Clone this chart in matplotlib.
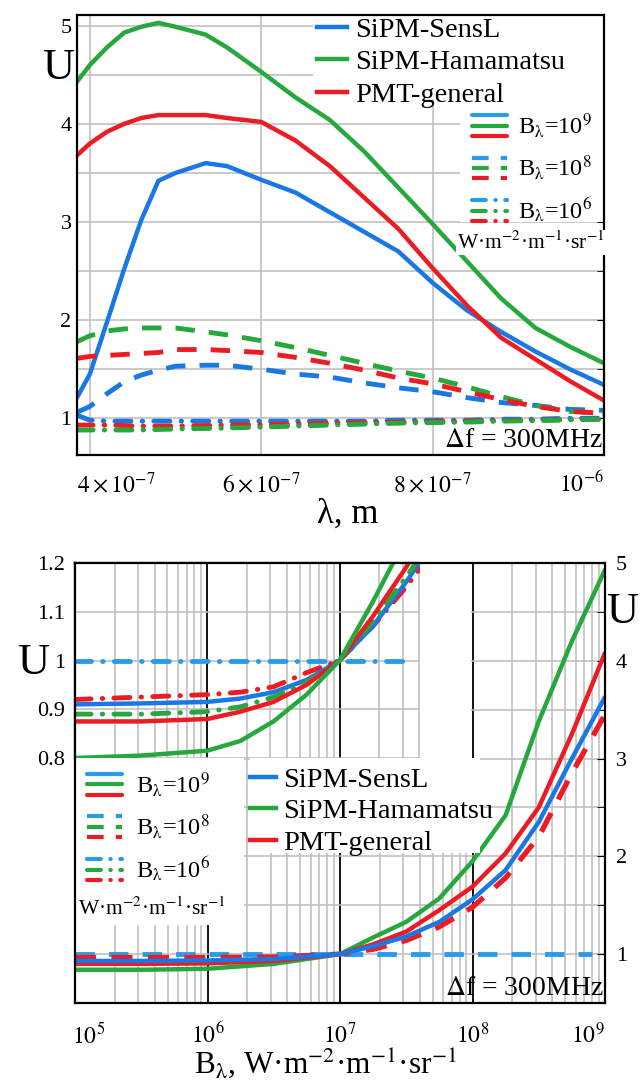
import matplotlib
matplotlib.use("Agg")
import numpy as np
import matplotlib.pyplot as plt
from matplotlib.lines import Line2D
from matplotlib.patches import Rectangle
from matplotlib.legend_handler import HandlerBase
from matplotlib.ticker import NullFormatter, MultipleLocator
from matplotlib.transforms import ScaledTranslation

plt.rcParams['font.family'] = ['Liberation Serif', 'DejaVu Serif']
plt.rcParams['mathtext.fontset'] = 'stix'

# ---------------- DATA: top chart (U vs wavelength) ----------------
lam_e7 = [3.85, 4.0, 4.2, 4.4, 4.6, 4.8, 5.0, 5.35, 5.6, 6.0,
          6.4, 6.8, 7.2, 7.6, 8.0, 8.4, 8.8, 9.2, 9.6, 10.0]   # x 1e-7 m
# B = 1e9 (solid)
sensl_b9 = [1.21, 1.45, 1.98, 2.52, 3.02, 3.42, 3.5, 3.6, 3.57, 3.43,
            3.3, 3.1, 2.9, 2.7, 2.38, 2.1, 1.88, 1.68, 1.5, 1.34]
hama_b9 = [4.43, 4.6, 4.78, 4.93, 4.99, 5.03, 4.99, 4.91, 4.78, 4.53,
           4.27, 4.04, 3.72, 3.35, 2.98, 2.6, 2.22, 1.92, 1.73, 1.56]
pmt_b9 = [3.68, 3.8, 3.92, 4.0, 4.06, 4.09, 4.09, 4.09, 4.06, 4.02,
          3.83, 3.57, 3.25, 2.93, 2.53, 2.15, 1.82, 1.6, 1.38, 1.18]
# B = 1e8 (dashed)
sensl_b8 = [1.06, 1.12, 1.25, 1.37, 1.44, 1.49, 1.53, 1.54, 1.54, 1.50,
            1.45, 1.42, 1.36, 1.31, 1.27, 1.21, 1.16, 1.13, 1.09, 1.08]
hama_b8 = [1.78, 1.84, 1.89, 1.91, 1.92, 1.92, 1.92, 1.88, 1.85, 1.79,
           1.72, 1.64, 1.56, 1.48, 1.41, 1.32, 1.22, 1.13, 1.07, 1.05]
pmt_b8 = [1.61, 1.63, 1.64, 1.65, 1.66, 1.67, 1.70, 1.70, 1.69, 1.67,
          1.62, 1.56, 1.49, 1.41, 1.35, 1.27, 1.19, 1.12, 1.07, 1.05]
# B = 1e6 (dash-dot)
sensl_b6 = [1.03, 0.98, 0.97, 0.97, 0.97, 0.97, 0.97, 0.97, 0.97, 0.97,
            0.97, 0.97, 0.97, 0.98, 0.98, 0.98, 0.99, 0.99, 1.0, 1.0]
hama_b6 = [0.88, 0.88, 0.88, 0.88, 0.88, 0.885, 0.89, 0.895, 0.9, 0.91,
           0.92, 0.93, 0.94, 0.95, 0.955, 0.96, 0.97, 0.975, 0.985, 0.99]
pmt_b6 = [0.93, 0.93, 0.93, 0.925, 0.92, 0.92, 0.92, 0.925, 0.93, 0.935,
          0.94, 0.95, 0.955, 0.96, 0.965, 0.97, 0.975, 0.98, 0.985, 0.99]

lam_ticks = [4e-7, 6e-7, 8e-7, 1e-6]
lam_ticklabels = [r'$4\times10^{-7}$', r'$6\times10^{-7}$', r'$8\times10^{-7}$', r'$10^{-6}$']
u_ticks_top = [1, 2, 3, 4, 5]

# ---------------- DATA: bottom chart (U vs B_lambda) ----------------
logB_main = [5, 5.5, 6, 6.5, 7, 7.25, 7.5, 7.75, 8.0, 8.25, 8.5, 8.75, 9.0]
sensl_main = [0.93, 0.93, 0.935, 0.95, 1.0, 1.08, 1.18, 1.33, 1.56, 1.86, 2.35, 3.0, 3.63]
hama_main = [0.84, 0.84, 0.85, 0.9, 1.0, 1.17, 1.33, 1.57, 1.95, 2.42, 3.38, 4.2, 4.93]
pmt_main = [0.9, 0.9, 0.905, 0.93, 1.0, 1.1, 1.23, 1.45, 1.69, 2.03, 2.5, 3.25, 4.08]
pmt_main_dash = [0.965, 0.965, 0.965, 0.97, 1.0, 1.05, 1.14, 1.28, 1.48, 1.78, 2.2, 2.85, 3.45]
B_flat = [1e5, 8e8]
sensl_flat = [1.0, 1.0]

logB_inset = [5, 5.5, 6, 6.25, 6.5, 6.75, 7, 7.25, 7.5, 7.75]
sensl_in = [0.91, 0.912, 0.915, 0.922, 0.935, 0.96, 1.0, 1.07, 1.16, 1.26]
hama_in = [0.80, 0.805, 0.815, 0.835, 0.875, 0.93, 1.0, 1.12, 1.25, 1.4]
pmt_in = [0.875, 0.875, 0.88, 0.895, 0.915, 0.95, 1.0, 1.09, 1.19, 1.3]
pmt_in_dd = [0.92, 0.925, 0.93, 0.935, 0.946, 0.975, 1.0, 1.07, 1.15, 1.24]
hama_in_dd = [0.89, 0.89, 0.895, 0.905, 0.925, 0.955, 1.0, 1.08, 1.17, 1.27]
B_in_flat = [1e5, 3.2e7]
sensl_in_flat = [1.0, 1.0]

B_ticks = [1e5, 1e6, 1e7, 1e8, 1e9]
B_ticklabels = [r'$10^{5}$', r'$10^{6}$', r'$10^{7}$', r'$10^{8}$', r'$10^{9}$']
u_ticks_main = [1, 2, 3, 4, 5]
u_ticks_inset = [0.8, 0.9, 1.0, 1.1, 1.2]
u_ticklabels_inset = ['0.8', '0.9', '1', '1.1', '1.2']

series_names = ['SiPM-SensL', 'SiPM-Hamamatsu', 'PMT-general']
b_labels = [r'B$_{\mathrm{λ}}$=10$^{9}$', r'B$_{\mathrm{λ}}$=10$^{8}$', r'B$_{\mathrm{λ}}$=10$^{6}$']
unit_label = r'W·m$^{-2}$·m$^{-1}$·sr$^{-1}$'

# ---------------- STYLE ----------------
BLUE = '#1a78e4'
BLUE2 = '#2a9be8'
GREEN = '#27a83e'
RED = '#ec1c24'
GRID = '#bcbcbc'
SOLID = dict(ls='-', lw=3.2, solid_capstyle='round')
DASH = dict(ls=(0, (4.0, 2.9)), lw=3.5)
DASHDOT = dict(ls=(0, (3.3, 2.3, 0.1, 2.3)), lw=3.5, dash_capstyle='round')

W, H = 642, 1085
def fbox(x0, y0, x1, y1):
    return [x0 / W, 1 - y1 / H, (x1 - x0) / W, (y1 - y0) / H]

class HandlerStack(HandlerBase):
    def create_artists(self, legend, orig_handle, xdescent, ydescent,
                       width, height, fontsize, trans):
        arts = []
        sep = height * 0.40
        yc = height / 2 - ydescent
        for i, h in enumerate(orig_handle):
            y = yc + sep * (1 - i)
            ln = Line2D([-xdescent, width - xdescent], [y, y])
            ln.update_from(h)
            ln.set_transform(trans)
            arts.append(ln)
        return arts

fig = plt.figure(figsize=(W / 100, H / 100), dpi=100)

def shift_label(lbl, dx_px):
    lbl.set_transform(lbl.get_transform() + ScaledTranslation(dx_px / 100, 0, fig.dpi_scale_trans))

# ======================= TOP CHART =======================
ax1 = fig.add_axes(fbox(77, 15, 604, 455))
lam = np.array(lam_e7) * 1e-7
for ys, c in [(sensl_b9, BLUE), (hama_b9, GREEN), (pmt_b9, RED)]:
    ax1.plot(lam, ys, color=c, zorder=2, **SOLID)
for ys, c in [(sensl_b8, BLUE), (hama_b8, GREEN), (pmt_b8, RED)]:
    ax1.plot(lam, ys, color=c, zorder=2, **DASH)
for ys, c in [(sensl_b6, BLUE), (pmt_b6, RED), (hama_b6, GREEN)]:
    ax1.plot(lam, ys, color=c, zorder=2, **DASHDOT)

ax1.set_xlim(3.85e-7, 1e-6)
ax1.set_ylim(0.625, 5.11)
ax1.set_xticks(lam_ticks, labels=lam_ticklabels)
ax1.set_yticks(u_ticks_top)
ax1.yaxis.set_minor_locator(MultipleLocator(0.5))
ax1.set_axisbelow(True)
ax1.grid(True, which='major', color=GRID, lw=1.1)
ax1.grid(True, which='minor', axis='y', color=GRID, lw=1.1)
ax1.tick_params(axis='x', length=0, labelsize=17, pad=12)
ax1.tick_params(axis='y', which='both', left=False, right=True, direction='in',
                length=5, labelsize=16, pad=4)
for s in ax1.spines.values():
    s.set_linewidth(1.6)
    s.set_color('black')
xl = ax1.get_xticklabels()
xl[0].set_ha('left'); shift_label(xl[0], -13)
xl[-1].set_ha('right')
ax1.set_xlabel('λ, m', fontsize=25, labelpad=6)
ax1.xaxis.set_label_coords((348 - 77) / 527, -0.098)
fig.text(58 / W, 1 - 68 / H, 'U', fontsize=32, ha='center', va='center')

# white legend backgrounds
ax1.add_patch(Rectangle((0.448, 0.81), 0.552, 0.19, transform=ax1.transAxes,
                        facecolor='white', edgecolor='none', zorder=2.2))
ax1.add_patch(Rectangle((0.727, 0.53), 0.273, 0.28, transform=ax1.transAxes,
                        facecolor='white', edgecolor='none', zorder=2.2))

series_handles = [Line2D([], [], color=c, lw=3.2) for c in (BLUE, GREEN, RED)]
leg1 = ax1.legend(series_handles, series_names, loc='upper left',
                  bbox_to_anchor=(0.455, 0.995), frameon=False, fontsize=20.5,
                  handlelength=1.05, handletextpad=0.28, labelspacing=0.22,
                  borderpad=0, borderaxespad=0)
leg1.set_zorder(5)
ax1.add_artist(leg1)

def bstack(style, blue):
    return tuple(Line2D([], [], color=c, **{**style, 'lw': 3.0}) for c in (blue, GREEN, RED))

b_handles = [bstack(SOLID, BLUE2), bstack(DASH, BLUE2), bstack(DASHDOT, BLUE2)]
leg2 = ax1.legend(b_handles, b_labels, loc='upper left', bbox_to_anchor=(0.7495, 0.782),
                  frameon=False, fontsize=17.5, handlelength=1.45, handleheight=1.25,
                  handletextpad=0.45, labelspacing=0.55, borderpad=0, borderaxespad=0,
                  handler_map={tuple: HandlerStack()})
leg2.set_zorder(5)
ax1.text(0.861, 0.482, unit_label, transform=ax1.transAxes, fontsize=15.5,
         ha='center', va='center', zorder=5,
         bbox=dict(facecolor='white', edgecolor='none', pad=1))
ax1.text(0.997, 0.004, r'$\Delta$f = 300MHz', transform=ax1.transAxes, fontsize=20,
         ha='right', va='bottom', zorder=5)

# ======================= BOTTOM CHART =======================
ax2 = fig.add_axes(fbox(75, 563, 605, 1003))
Bm = 10 ** np.array(logB_main)
ax2.plot(B_flat, sensl_flat, color=BLUE2, zorder=2, **DASH)
ax2.plot(Bm, pmt_main_dash, color=RED, zorder=2, **{**DASH, 'lw': 3.8})
ax2.plot(Bm, hama_main, color=GREEN, zorder=2, **SOLID)
ax2.plot(Bm, pmt_main, color=RED, zorder=2, **SOLID)
ax2.plot(Bm, sensl_main, color=BLUE, zorder=2, **SOLID)

ax2.set_xscale('log')
ax2.set_xlim(1e5, 1e9)
ax2.set_ylim(0.5, 5.0)
ax2.set_xticks(B_ticks, labels=B_ticklabels)
ax2.xaxis.set_minor_formatter(NullFormatter())
ax2.yaxis.tick_right()
ax2.set_yticks(u_ticks_main)
ax2.yaxis.set_minor_locator(MultipleLocator(0.5))
ax2.set_axisbelow(True)
ax2.grid(True, which='major', axis='x', color='black', lw=1.3)
ax2.grid(True, which='minor', axis='x', color=GRID, lw=1.1)
ax2.grid(True, which='both', axis='y', color=GRID, lw=1.1)
ax2.tick_params(axis='x', which='both', length=0, labelsize=17, pad=14)
ax2.tick_params(axis='y', which='both', left=True, right=True, direction='in',
                length=6, labelsize=16, pad=8)
for s in ax2.spines.values():
    s.set_linewidth(1.6)
    s.set_color('black')
bl = ax2.get_xticklabels()
bl[0].set_ha('left'); shift_label(bl[0], -3)
bl[-1].set_ha('right')
ax2.set_xlabel(r'B$_{\mathrm{λ}}$, W·m$^{-2}$·m$^{-1}$·sr$^{-1}$', fontsize=22.5)
ax2.xaxis.set_label_coords((325 - 75) / 530, -0.1)
fig.text(622 / W, 1 - 612 / H, 'U', fontsize=32, ha='center', va='center')

# white areas
for (x0, y0, w, h) in [(0.651, 0.545, 0.096, 0.455),
                       (0.0, 0.177, 0.319, 0.38),
                       (0.330, 0.341, 0.434, 0.216)]:
    ax2.add_patch(Rectangle((x0, y0), w, h, transform=ax2.transAxes,
                            facecolor='white', edgecolor='none', zorder=2.2))

leg3 = ax2.legend(b_handles, b_labels, loc='upper left', bbox_to_anchor=(0.0226, 0.53),
                  frameon=False, fontsize=17.5, handlelength=1.45, handleheight=1.25,
                  handletextpad=0.55, labelspacing=0.55, borderpad=0, borderaxespad=0,
                  handler_map={tuple: HandlerStack()})
leg3.set_zorder(5)
ax2.add_artist(leg3)
leg4 = ax2.legend(series_handles, series_names, loc='upper left',
                  bbox_to_anchor=(0.330, 0.537), frameon=False, fontsize=20.5,
                  handlelength=0.9, handletextpad=0.28, labelspacing=0.2,
                  borderpad=0, borderaxespad=0)
leg4.set_zorder(5)
ax2.text(0.145, 0.215, unit_label, transform=ax2.transAxes, fontsize=15.5,
         ha='center', va='center', zorder=5)
ax2.text(0.997, 0.004, r'$\Delta$f = 300MHz', transform=ax2.transAxes, fontsize=20,
         ha='right', va='bottom', zorder=5)

# ---------------- inset (zoom of U near 1) ----------------
ax3 = fig.add_axes(fbox(75, 563, 420, 758))
ax3.set_facecolor('white')
Bi = 10 ** np.array(logB_inset)
ax3.plot(B_in_flat, sensl_in_flat, color=BLUE2, zorder=2, **DASHDOT)
ax3.plot(Bi, pmt_in_dd, color=RED, zorder=2, **DASHDOT)
ax3.plot(Bi, sensl_in, color=BLUE, zorder=2, **SOLID)
ax3.plot(Bi, hama_in_dd, color=GREEN, zorder=2, **DASHDOT)
ax3.plot(Bi, pmt_in, color=RED, zorder=2, **SOLID)
ax3.plot(Bi, hama_in, color=GREEN, zorder=2, **SOLID)
ax3.set_xscale('log')
ax3.set_xlim(1e5, 4.05e7)
ax3.set_ylim(0.8, 1.2)
ax3.set_xticks(B_ticks[:3])
ax3.xaxis.set_major_formatter(NullFormatter())
ax3.xaxis.set_minor_formatter(NullFormatter())
ax3.set_yticks(u_ticks_inset, labels=u_ticklabels_inset)
ax3.set_axisbelow(True)
ax3.grid(True, which='major', axis='x', color='black', lw=1.3)
ax3.grid(True, which='minor', axis='x', color=GRID, lw=1.1)
ax3.grid(True, which='major', axis='y', color=GRID, lw=1.1)
ax3.tick_params(axis='both', which='both', length=0, labelsize=16, pad=7)
for k in ('right', 'bottom'):
    ax3.spines[k].set_visible(False)
for k in ('left', 'top'):
    ax3.spines[k].set_linewidth(1.6)
fig.text(33 / W, 1 - 663 / H, 'U', fontsize=32, ha='center', va='center')

fig.savefig('out.png', dpi=100)
